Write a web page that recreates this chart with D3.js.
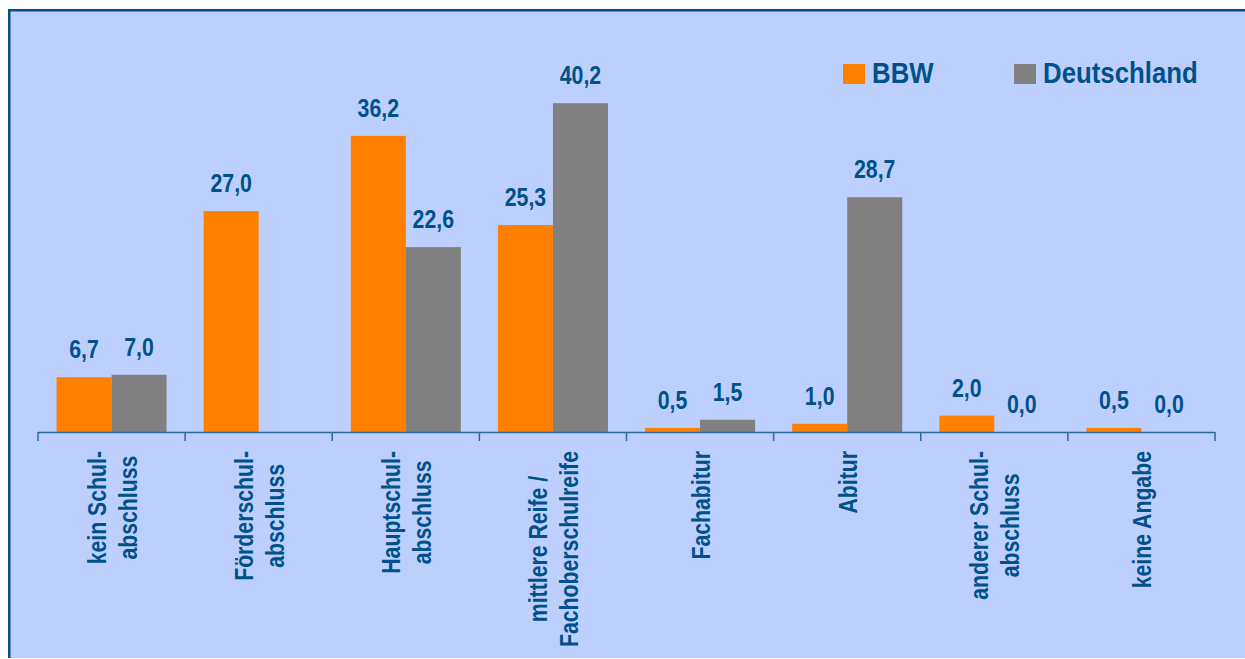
<!DOCTYPE html>
<html>
<head>
<meta charset="utf-8">
<script src="https://cdn.jsdelivr.net/npm/d3@7"></script>
<style>
html,body{margin:0;padding:0;background:#fff;}
svg{display:block;}
text{font-family:"Liberation Sans","Arial",sans-serif;font-weight:bold;}
</style>
</head>
<body>
<svg id="chart" width="1245" height="659"></svg>
<script>
const categories = [
  ["kein Schul-", "abschluss"],
  ["Förderschul-", "abschluss"],
  ["Hauptschul-", "abschluss"],
  ["mittlere Reife /", "Fachoberschulreife"],
  ["Fachabitur"],
  ["Abitur"],
  ["anderer Schul-", "abschluss"],
  ["keine Angabe"]
];
const seriesNames = ["BBW", "Deutschland"];
const bbw = [6.7, 27.0, 36.2, 25.3, 0.5, 1.0, 2.0, 0.5];
const deutschland = [7.0, null, 22.6, 40.2, 1.5, 28.7, 0.0, 0.0];
const colors = ["#FF7F00", "#808080"];
const textColor = "#00508A";
const NARROW = 0.82;
const NARROW_CAT = 0.85;
const NARROW_LEG = 0.86;

const svg = d3.select("#chart");
// background frame (left and top border only visible)
svg.append("rect").attr("x", 8).attr("y", 9).attr("width", 1237).attr("height", 649).attr("fill", "#BDD0FD");
svg.append("line").attr("x1", 9.25).attr("x2", 9.25).attr("y1", 9).attr("y2", 658).attr("stroke", "#00508A").attr("stroke-width", 2.5);
svg.append("line").attr("x1", 8).attr("x2", 1245).attr("y1", 10.25).attr("y2", 10.25).attr("stroke", "#00508A").attr("stroke-width", 2.5);

const x0 = d3.scaleBand().domain(d3.range(categories.length)).range([38, 1215]).paddingInner(0).paddingOuter(0);
const x1 = d3.scaleBand().domain([0, 1]).range([0, x0.bandwidth()]).paddingOuter(0.337).paddingInner(0);
const y = d3.scaleLinear().domain([0, 45]).range([432, 432 - 45 * 8.18]);

const series = [bbw, deutschland];
const fmt = v => d3.format(".1f")(v).replace(".", ",");

series.forEach((vals, s) => {
  const g = svg.append("g");
  vals.forEach((v, i) => {
    if (v === null) return;
    const xx = x0(i) + x1(s);
    g.append("rect").attr("x", xx).attr("y", y(v)).attr("width", x1.bandwidth())
      .attr("height", y(0) - y(v)).attr("fill", colors[s]);
    g.append("text")
      .attr("transform", `translate(${xx + x1.bandwidth() / 2},${y(v) - 19}) scale(${NARROW},1)`)
      .attr("text-anchor", "middle").attr("font-size", 26).attr("fill", textColor)
      .text(fmt(v));
  });
});

// axis
const axisG = svg.append("g");
axisG.append("line").attr("x1", 38).attr("x2", 1215).attr("y1", 432.5).attr("y2", 432.5)
  .attr("stroke", "#2E6A9C").attr("stroke-width", 1.5);
const boundaries = d3.range(categories.length + 1).map(i => i < categories.length ? x0(i) : x0(i - 1) + x0.bandwidth());
boundaries.forEach(b => {
  axisG.append("line").attr("x1", b).attr("x2", b).attr("y1", 432).attr("y2", 441)
    .attr("stroke", "#2E6A9C").attr("stroke-width", 1.5);
});

// category labels
categories.forEach((lines, i) => {
  const cx = x0(i) + x0.bandwidth() / 2;
  const n = lines.length;
  const g = svg.append("g");
  const texts = lines.map((l, k) => g.append("text").attr("font-size", 25).attr("fill", textColor)
    .attr("text-anchor", "middle").text(l));
  const maxLen = d3.max(texts, t => t.node().getComputedTextLength()) * NARROW_CAT;
  const cy = 451 + maxLen / 2;
  texts.forEach((t, k) => {
    const bx = cx + 9.5 + (k - (n - 1) / 2) * 31;
    t.attr("transform", `translate(${bx},${cy}) rotate(-90) scale(${NARROW_CAT},1)`);
  });
});

// legend
const legendX = [843, 1014];
seriesNames.forEach((name, s) => {
  svg.append("rect").attr("x", legendX[s]).attr("y", 64).attr("width", 22).attr("height", 20).attr("fill", colors[s]);
  svg.append("text").attr("transform", `translate(${legendX[s] + 29},83) scale(${NARROW_LEG},1)`)
    .attr("font-size", 30).attr("fill", textColor).text(name);
});
</script>
</body>
</html>
